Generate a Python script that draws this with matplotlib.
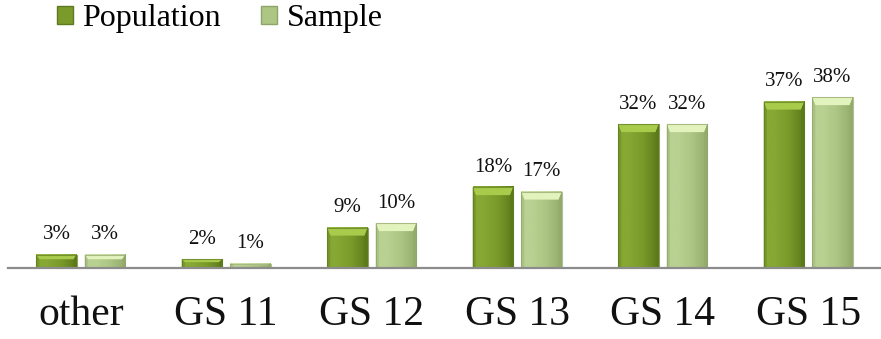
import numpy as np
import matplotlib.pyplot as plt
from matplotlib.colors import to_rgb
from matplotlib.patches import Polygon, Patch

plt.rcParams["font.family"] = ["Liberation Serif", "DejaVu Serif"]

categories = ["other", "GS 11", "GS 12", "GS 13", "GS 14", "GS 15"]
population = [3, 2, 9, 18, 32, 37]
sample = [3, 1, 10, 17, 32, 38]

# body edge / body middle / right edge / top bevel / side bevel / outline
POP_COLORS = ["#86a834", "#7a9a2a", "#5c7a1a", "#a8cb4c", "#6c8c22", "#5e7a20"]
SAM_COLORS = ["#b9d192", "#adc684", "#93ac6c", "#e2f3bd", "#a1ba78", "#8ea46a"]

BAR_W = 0.28
OFFSET = 0.167


def draw_bar(ax, xc, h, colors):
    x0, x1 = xc - BAR_W / 2, xc + BAR_W / 2
    edge, mid, right, top, side, outline = [to_rgb(c) for c in colors]
    # horizontal shading across the bar face
    pos = [0.0, 0.25, 0.6, 1.0]
    stops = np.array([edge, edge, mid, right])
    t = np.linspace(0, 1, 64)
    grad = np.stack([np.interp(t, pos, stops[:, k]) for k in range(3)], axis=-1)
    ax.imshow(grad[np.newaxis, :, :], extent=[x0, x1, 0, h], aspect="auto",
              interpolation="bicubic", zorder=2)
    s = 0.022
    b = min(1.8, h * 0.35)
    ax.add_patch(Polygon([(x0, h), (x1, h), (x1 - s, h - b), (x0 + s, h - b)],
                         closed=True, facecolor=top, edgecolor="none", zorder=3))
    ax.add_patch(Polygon([(x0, 0), (x0, h), (x0 + s, h - b), (x0 + s, 0)],
                         closed=True, facecolor=side, edgecolor="none", alpha=0.6, zorder=3))
    ax.add_patch(Polygon([(x1, 0), (x1, h), (x1 - s, h - b), (x1 - s, 0)],
                         closed=True, facecolor=right, edgecolor="none", zorder=3))
    ax.add_patch(Polygon([(x0, 0), (x0, h), (x1, h), (x1, 0)], closed=True,
                         facecolor="none", edgecolor=outline, lw=0.8, alpha=0.7, zorder=4))


fig = plt.figure(figsize=(8.81, 3.39), dpi=100)
ax = fig.add_axes([8 / 881, 1 - 268 / 339, 873 / 881, 180 / 339])

x = np.arange(len(categories))
for i in x:
    draw_bar(ax, i - OFFSET, population[i], POP_COLORS)
    draw_bar(ax, i + OFFSET, sample[i], SAM_COLORS)
    for xc, v in ((i - OFFSET, population[i]), (i + OFFSET, sample[i])):
        ax.annotate(f"{v}%", (xc, v), xytext=(0, 11), textcoords="offset points",
                    ha="center", va="baseline", fontsize=15, color="#111111")

ax.set_xlim(-0.5, len(categories) - 0.5)
ax.set_ylim(0, 40)
ax.set_xticks(x)
ax.set_xticklabels(categories, fontsize=30, color="#111111")
ax.tick_params(axis="x", length=0, pad=20)
ax.set_yticks([])
for side in ("top", "left", "right"):
    ax.spines[side].set_visible(False)
ax.spines["bottom"].set_color("#8c8c8c")
ax.spines["bottom"].set_linewidth(1.6)
ax.spines["bottom"].set_zorder(5)

handles = [Patch(facecolor="#7a9a2a", edgecolor="#5e7a20"),
           Patch(facecolor="#adc684", edgecolor="#8ea46a")]
fig.legend(handles, ["Population", "Sample"], loc="upper left",
           bbox_to_anchor=(44 / 881, 1.025), ncol=2, frameon=False, fontsize=23,
           handlelength=0.5, handleheight=0.5, handletextpad=0.3,
           columnspacing=1.25, borderaxespad=0)

fig.savefig("out.png", dpi=100)
